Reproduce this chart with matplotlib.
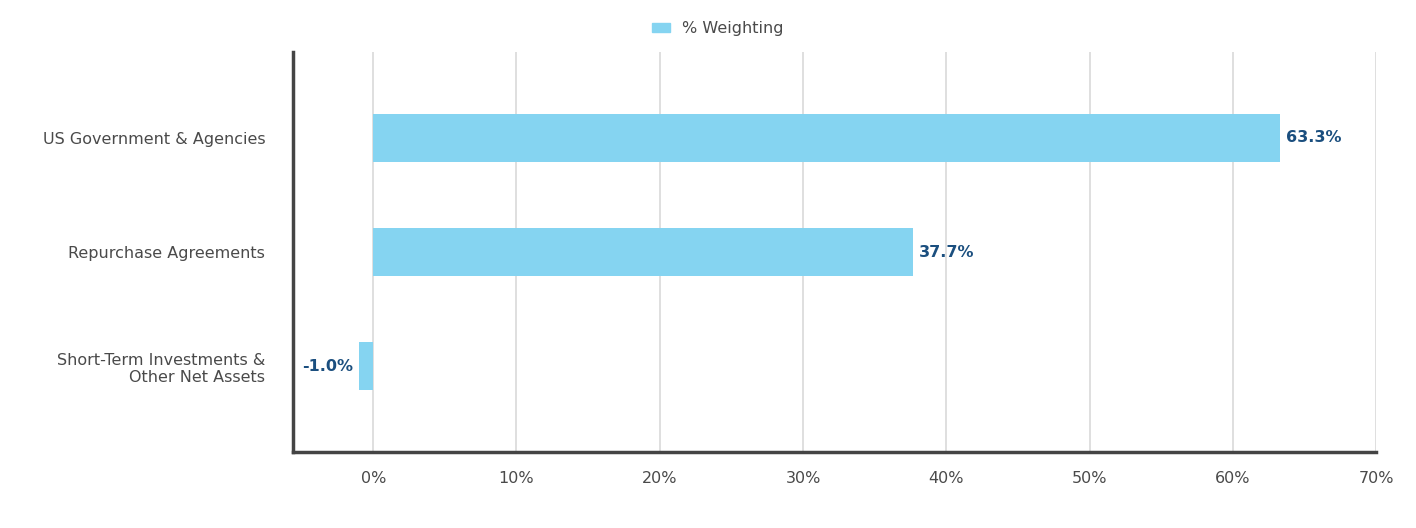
import matplotlib.pyplot as plt
from matplotlib.patches import Patch

categories = ['US Government & Agencies', 'Repurchase Agreements', 'Short-Term Investments &\nOther Net Assets']
weights = [63.3, 37.7, -1.0]
xticks = [0, 10, 20, 30, 40, 50, 60, 70]

bar_color = '#85D4F1'
label_color = '#1B4F7F'
text_color = '#4A4A4A'

fig = plt.figure(figsize=(14.16, 5.28), dpi=100)
ax = fig.add_axes([0.2069, 0.1439, 0.7649, 0.7576])

ypos = list(range(len(categories)))
ax.bar  # keep namespace simple
ax.barh(ypos, weights, height=0.42, color=bar_color, zorder=3)

for y, v in zip(ypos, weights):
    if v >= 0:
        ax.text(v + 0.4, y, f'{v:.1f}%', va='center', ha='left', color=label_color,
                fontsize=11.5, fontweight='bold')
    else:
        ax.text(v - 0.4, y, f'{v:.1f}%', va='center', ha='right', color=label_color,
                fontsize=11.5, fontweight='bold')

ax.set_xlim(-5.6, 70)
ax.set_ylim(2.754, -0.754)
ax.set_xticks(xticks)
ax.set_xticklabels([f'{t}%' for t in xticks])
ax.set_yticks(ypos)
ax.set_yticklabels(categories)
ax.tick_params(axis='both', length=0, labelsize=11.5, colors=text_color)
ax.tick_params(axis='x', pad=14)
ax.tick_params(axis='y', pad=20)
for lbl in ax.get_yticklabels():
    lbl.set_horizontalalignment('right')
    lbl.set_multialignment('right')

ax.grid(axis='x', color='#D9D9D9', linewidth=1.2, zorder=0)
for s in ['top', 'right']:
    ax.spines[s].set_visible(False)
for s in ['left', 'bottom']:
    ax.spines[s].set_color('#444444')
    ax.spines[s].set_linewidth(2.5)

fig.legend(handles=[Patch(color=bar_color, label='% Weighting')], loc='center',
           bbox_to_anchor=(0.507, 0.946), frameon=False, fontsize=11.5,
           handlelength=1.1, handleheight=0.45, labelcolor=text_color)

fig.savefig('out.png', dpi=100)
